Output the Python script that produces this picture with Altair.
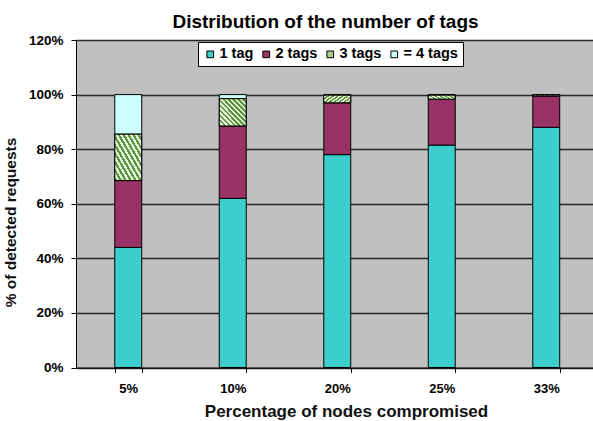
import altair as alt
import pandas as pd

# Share of detected requests by number of tags, per compromise level (percent)
nodes = ["5%", "10%", "20%", "25%", "33%"]
one_tag = [44.0, 62.0, 78.0, 81.5, 88.0]
two_tags = [24.5, 26.5, 19.0, 16.8, 11.5]
three_tags = [17.0, 10.0, 2.8, 1.5, 0.4]
four_tags = [14.5, 1.5, 0.2, 0.2, 0.1]

segments = ["1 tag", "2 tags", "3 tags", "= 4 tags"]
colors = ["#3ccdcd", "#993366", "#a9cf8e", "#ccffff"]

rows = []
for i, n in enumerate(nodes):
    for k, vals in enumerate([one_tag, two_tags, three_tags, four_tags]):
        rows.append({"nodes": n, "segment": segments[k], "order": k, "value": vals[i]})
df = pd.DataFrame(rows)

# diagonal hatch used for the "3 tags" segments
stripe_stops = []
n_stripes = 11
for s in range(n_stripes):
    a = s / n_stripes
    b = (s + 0.5) / n_stripes
    c = (s + 1) / n_stripes
    stripe_stops += [
        {"offset": a, "color": "#5f9442"},
        {"offset": b, "color": "#5f9442"},
        {"offset": b, "color": "#e6f5da"},
        {"offset": c, "color": "#e6f5da"},
    ]
hatch = {"gradient": "linear", "x1": 0, "y1": 1, "x2": 1, "y2": 0, "stops": stripe_stops}

FONT = "Liberation Sans"

x_enc = alt.X(
    "nodes:N",
    sort=nodes,
    scale=alt.Scale(range=[0, 522.5], paddingInner=0.742, paddingOuter=0.371),
    axis=alt.Axis(
        title="Percentage of nodes compromised",
        labelAngle=0,
        tickBand="extent",
        tickSize=5,
        tickColor="black",
        domainColor="black",
        labelFont=FONT,
        labelFontWeight="bold",
        labelFontSize=13,
        labelColor="black",
        labelPadding=10,
        titleFont=FONT,
        titleFontSize=17,
        titleFontWeight="bold",
        titleColor="#111111",
        titleX=270,
        titleY=44,
        titleBaseline="middle",
        titleAlign="center",
    ),
)

y_enc = alt.Y(
    "y0:Q",
    scale=alt.Scale(domain=[0, 120], nice=False),
    axis=alt.Axis(
        title="% of detected requests",
        values=[0, 20, 40, 60, 80, 100, 120],
        labelExpr="datum.value + '%'",
        tickSize=5,
        tickColor="black",
        domainColor="black",
        gridColor="#262626",
        gridWidth=1.4,
        labelFont=FONT,
        labelFontWeight="bold",
        labelFontSize=13.5,
        labelColor="black",
        labelPadding=8,
        titleFont=FONT,
        titleFontSize=15.5,
        titleFontWeight="bold",
        titleColor="#111111",
        titleX=-66,
        titleY=182,
        titleBaseline="middle",
        titleAlign="center",
    ),
)

base = alt.Chart(df).transform_stack(
    stack="value",
    as_=["y0", "y1"],
    groupby=["nodes"],
    sort=[alt.SortField("order", order="ascending")],
)

bars = base.mark_bar(stroke="black", strokeWidth=1).encode(
    x=x_enc,
    y=y_enc,
    y2="y1:Q",
    color=alt.Color(
        "segment:N",
        scale=alt.Scale(domain=segments, range=colors),
        title=None,
        legend=alt.Legend(
            orient="none",
            legendX=122,
            legendY=2,
            direction="horizontal",
            fillColor="white",
            strokeColor="black",
            padding=5,
            symbolType="square",
            symbolSize=45,
            symbolStrokeColor="black",
            symbolStrokeWidth=1,
            labelFont=FONT,
            labelFontWeight="bold",
            labelFontSize=14.5,
            labelColor="black",
            labelOffset=2,
            columnPadding=5,
        ),
    ),
)

hatched = base.transform_filter(alt.datum.segment == "3 tags").mark_bar(
    stroke="black", strokeWidth=1, fill=hatch
).encode(x=alt.X("nodes:N", sort=nodes), y="y0:Q", y2="y1:Q")

chart = (
    alt.layer(bars, hatched)
    .properties(
        width=517,
        height=327.5,
        autosize=alt.AutoSizeParams(type="none"),
        padding={"left": 76, "top": 40, "right": 0, "bottom": 53.5},
        background="white",
        title=alt.TitleParams(
            "Distribution of the number of tags",
            font=FONT,
            fontSize=19,
            fontWeight="bold",
            color="black",
            anchor="middle",
            dx=-9,
            offset=1,
        ),
    )
    .configure_view(fill="#c0c0c0", stroke=None)
)

chart.save("out.html", embed_options={"renderer": "svg", "actions": False})
